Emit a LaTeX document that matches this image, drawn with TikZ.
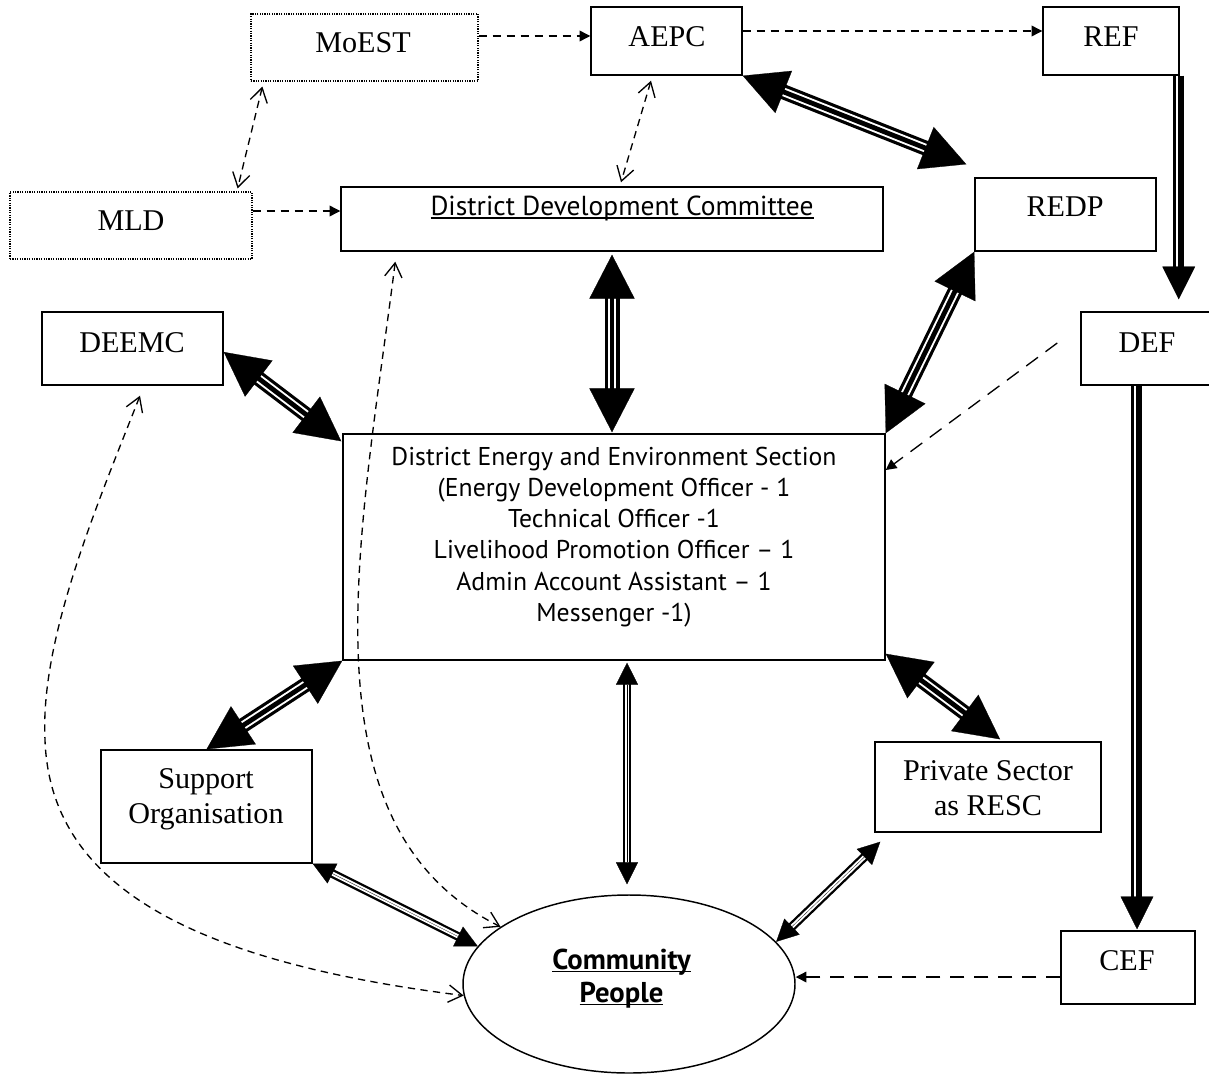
\documentclass[tikz,border=0pt]{standalone}
\usepackage{fontspec}
\setmainfont{Liberation Serif}
\newfontfamily\sansf{PT Sans}
\usetikzlibrary{arrows.meta,shapes.geometric,calc}
\newdimen\pxu \pxu=0.75pt
\newcommand\myul[1]{\begingroup\setbox0=\hbox{#1}\rlap{\rule[-2.6pt]{\wd0}{1.4pt}}\box0\endgroup}
% big triple-line double-headed arrow
\newcommand\triplearrow[2]{%
  \draw[line width=11.25pt, shorten <=30pt, shorten >=30pt] (#1) -- (#2);
  \draw[white, line width=6.5pt, shorten <=30pt, shorten >=30pt] (#1) -- (#2);
  \draw[line width=3.6pt, shorten <=30pt, shorten >=30pt] (#1) -- (#2);
  \draw[line width=0.2pt, {Triangle[length=33pt,width=34pt]}-{Triangle[length=33pt,width=34pt]}] (#1) -- (#2);
}
% small double-line double-headed arrow
\newcommand\doublearrow[2]{%
  \draw[line width=6.6pt, shorten <=15pt, shorten >=15pt] (#1) -- (#2);
  \draw[white, line width=3.1pt, shorten <=15pt, shorten >=15pt] (#1) -- (#2);
  \draw[line width=0.2pt, {Triangle[length=16.5pt,width=16.5pt]}-{Triangle[length=16.5pt,width=16.5pt]}] (#1) -- (#2);
}
% thick-thin vertical single-headed arrow
\newcommand\thickthin[2]{%
  \draw[line width=1.9pt, shorten >=20pt] ([xshift=-3.2pt]#1) -- ([xshift=-3.2pt]#2);
  \draw[line width=4.5pt, shorten >=20pt] ([xshift=1.7pt]#1) -- ([xshift=1.7pt]#2);
  \draw[line width=0.2pt, -{Triangle[length=24.5pt,width=24.5pt]}] (#1) -- (#2);
}
\begin{document}
\begin{tikzpicture}[x=0.75pt,y=-0.75pt,
  box/.style={draw, line width=1.1pt, inner sep=0pt},
  dotbox/.style={draw, line width=0.9pt, dash pattern=on 0.9pt off 0.9pt, inner sep=0pt},
  serif/.style={font=\fontsize{22.6}{25}\selectfont, inner sep=0pt, anchor=base},
  sans/.style={font=\sansf\fontsize{19.3}{23}\selectfont, inner sep=0pt, anchor=base},
  cbold/.style={font=\sansf\bfseries\fontsize{21.5}{25}\selectfont, inner sep=0pt, anchor=base},
  dshfill/.style={line width=1pt, dash pattern=on 6pt off 4.5pt, -{Triangle[length=8pt,width=8pt]}},
  dshlong/.style={line width=1pt, dash pattern=on 11pt off 7pt, -{Triangle[length=8pt,width=8pt]}},
  dshopen/.style={line width=1pt, dash pattern=on 5.5pt off 4pt, {Straight Barb[length=10.5pt,width=13pt]}-{Straight Barb[length=10.5pt,width=13pt]}},
]
\useasboundingbox[fill=white] (0,0) rectangle (1209,1074);

% boxes
\node[dotbox, minimum width=227*\pxu, minimum height=67*\pxu] (moest) at (364.5,47.5) {};
\node[box, minimum width=151*\pxu, minimum height=68*\pxu] (aepc) at (666.5,41) {};
\node[box, minimum width=136*\pxu, minimum height=68*\pxu] (ref) at (1111,41) {};
\node[dotbox, minimum width=242*\pxu, minimum height=67*\pxu] (mld) at (131,225.5) {};
\node[box, minimum width=542*\pxu, minimum height=64*\pxu] (ddc) at (612,219) {};
\node[box, minimum width=181*\pxu, minimum height=73*\pxu] (redp) at (1065.5,214.5) {};
\node[box, minimum width=181*\pxu, minimum height=73*\pxu] (deemc) at (132.5,348.5) {};
\node[box, minimum width=134*\pxu, minimum height=73*\pxu] (def) at (1148,348.5) {};
\node[box, minimum width=542*\pxu, minimum height=226*\pxu] (dees) at (614,547) {};
\node[box, minimum width=211*\pxu, minimum height=113*\pxu] (support) at (206.5,806.5) {};
\node[box, minimum width=226*\pxu, minimum height=90*\pxu] (private) at (988,787) {};
\node[box, minimum width=134*\pxu, minimum height=73*\pxu] (cef) at (1128,967.5) {};
\node[draw, ellipse, line width=1.1pt, inner sep=0pt, minimum width=332*\pxu, minimum height=178*\pxu] (community) at (629,984) {};

% texts
\node[serif] (moestT) at (363,53) {MoEST};
\node[serif] (aepcT) at (667,47) {AEPC};
\node[serif] (refT) at (1111,47) {REF};
\node[serif] (mldT) at (131,230) {MLD};
\node[sans, font=\sansf\fontsize{20.6}{24}\selectfont] (ddcT) at (622,215.5) {\myul{District Development Committee}};
\node[serif] (redpT) at (1065,216) {REDP};
\node[serif] (deemcT) at (132,352) {DEEMC};
\node[serif] (defT) at (1147,352) {DEF};
\node[serif] (cefT) at (1127,970) {CEF};
\node[serif] (supT1) at (206,788) {Support};
\node[serif] (supT2) at (206,823) {Organisation};
\node[serif] (prvT1) at (988,780) {Private Sector};
\node[serif] (prvT2) at (988,815) {as RESC};
\node[sans] (deesT1) at (614,465) {District Energy and Environment Section};
\node[sans] (deesT2) at (614,496) {(Energy Development Officer - 1};
\node[sans] (deesT3) at (614,527.5) {Technical Officer -1};
\node[sans] (deesT4) at (614,558.5) {Livelihood Promotion Officer – 1};
\node[sans] (deesT5) at (614,590) {Admin Account Assistant – 1};
\node[sans] (deesT6) at (614,621) {Messenger -1)};
\node[cbold] (commT1) at (621.5,969) {\myul{Community}};
\node[cbold] (commT2) at (621.5,1002) {\myul{People}};

% dashed arrows with filled heads
\coordinate (ma) at ($(moest.east)+(0,-11.5)$);
\draw[dshfill] (ma) -- (ma -| aepc.west);
\coordinate (ar) at ($(aepc.east)+(0,-10)$);
\draw[dshfill] (ar) -- (ar -| ref.west);
\coordinate (md) at ($(mld.east)+(0,-14.5)$);
\draw[dshfill] (md) -- (md -| ddc.west);
\coordinate (defS) at ($(def.west)+(-23,-5.5)$);
\coordinate (deesE) at ($(dees.east)+(0,-77)$);
\draw[dshlong] (defS) -- (deesE);
\coordinate (cefW) at ($(cef.west)+(0,9.5)$);
\draw[dshlong] (cefW) -- (cefW -| community.east);

% dashed arrows with open heads
\coordinate (moestB) at ($(moest.south west)+(12,5)$);
\coordinate (mldT) at ($(mld.north east)+(-15,-3)$);
\draw[dshopen] (moestB) -- (mldT);
\coordinate (aepcB) at ($(aepc.south)+(-15.5,5)$);
\coordinate (ddcTop) at ($(ddc.north)+(9,-4)$);
\draw[dshopen] (aepcB) -- (ddcTop);
\coordinate (ddcB) at ($(ddc.south west)+(55,10)$);
\draw[dshopen] (ddcB) .. controls (360,540) and (298,825) .. (community.156);
\coordinate (deemcB) at ($(deemc.south)+(7.5,10)$);
\draw[dshopen] (deemcB) .. controls (95,510) and (40,640) .. (45,740) .. controls (50,880) and (180,960) .. (community.184);

% big triple arrows
\coordinate (redpIn) at ($(redp.north west)+(-8,-13)$);
\triplearrow{aepc.south east}{redpIn}
\coordinate (ddcOut) at ($(ddc.south)+(0,3)$);
\coordinate (deesTop) at ($(ddcOut |- dees.north)+(0,-1)$);
\triplearrow{ddcOut}{deesTop}
\triplearrow{redp.south west}{dees.north east}
\coordinate (deemcR) at ($(deemc.east)+(0,3.5)$);
\coordinate (deesNW) at ($(dees.north west)+(-1,8)$);
\triplearrow{deemcR}{deesNW}
\triplearrow{dees.south west}{support.north}
\coordinate (deesSE) at ($(dees.south east)+(0,-7)$);
\coordinate (privN) at ($(private.north)+(12,-2)$);
\triplearrow{deesSE}{privN}

% small double arrows
\coordinate (deesB) at ($(dees.south)+(13,2)$);
\coordinate (commTop) at ($(community.north)+(-2,-10)$);
\doublearrow{deesB}{commTop}
\doublearrow{support.south east}{community.166}
\coordinate (privSW) at ($(private.south west)+(6,9)$);
\doublearrow{privSW}{community.16}

% thick-thin arrows
\coordinate (refS) at ($(ref.south east)+(-1,0)$);
\coordinate (defN) at ($(ref.south east |- def.north)+(-1,-12)$);
\thickthin{refS}{defN}
\coordinate (defB) at ($(def.south)+(-11,0)$);
\coordinate (cefN) at ($(defB |- cef.north)+(0,-1)$);
\thickthin{defB}{cefN}
\end{tikzpicture}
\end{document}
